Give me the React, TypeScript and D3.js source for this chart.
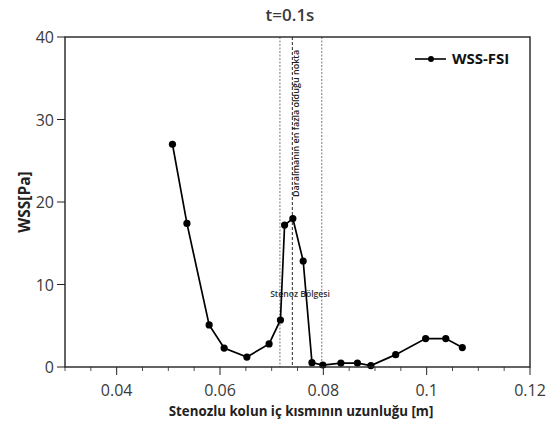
import React from "react";
import * as d3 from "d3";

// data
const positions = [0.0508, 0.0536, 0.0579, 0.0608, 0.0652, 0.0695, 0.0717, 0.0725, 0.0741, 0.0761, 0.0778, 0.0799, 0.0834, 0.0866, 0.0892, 0.094, 0.0998, 0.1037, 0.1069];
const wssFsi = [27.0, 17.4, 5.1, 2.3, 1.2, 2.8, 5.7, 17.2, 18.0, 12.85, 0.53, 0.24, 0.48, 0.48, 0.17, 1.5, 3.44, 3.44, 2.35];
const xTicks = [0.04, 0.06, 0.08, 0.1, 0.12];
const yTicks = [0, 10, 20, 30, 40];
const stenosisBounds = [0.0716, 0.0797];
const maxNarrowing = 0.074;

const W = 550;
const H = 423;
const margin = { top: 37, right: 20, bottom: 56, left: 65 };

const fontUi = "'Open Sans', 'Noto Sans', sans-serif";

export default function App() {
  const x = d3.scaleLinear().domain([0.03, 0.12]).range([margin.left, W - margin.right]);
  const y = d3.scaleLinear().domain([0, 40]).range([H - margin.bottom, margin.top]);
  const x0 = x.range()[0], x1 = x.range()[1];
  const y0 = y.range()[0], y1 = y.range()[1];

  const minorTicks = d3.range(0.03, 0.1201, 0.005).filter(
    (t) => !xTicks.some((m) => Math.abs(m - t) < 1e-6)
  );

  const line = d3
    .line<number>()
    .x((_, i) => x(positions[i]))
    .y((d) => y(d));

  const axisColor = "#222";
  const labelColor = "#3a3a3a";

  return (
    <svg width={W} height={H} style={{ position: "absolute", left: 0, top: 0, background: "#fff" }}>
      {/* title */}
      <text x={290} y={21} textAnchor="middle" fontFamily={fontUi} fontWeight={600} fontSize={17} fill={labelColor}>
        t=0.1s
      </text>

      {/* reference lines */}
      {stenosisBounds.map((v) => (
        <line key={v} x1={x(v)} x2={x(v)} y1={y1} y2={y0} stroke="#555" strokeWidth={0.8} strokeDasharray="2,1.5" />
      ))}
      <line x1={x(maxNarrowing)} x2={x(maxNarrowing)} y1={y1} y2={y0} stroke="#111" strokeWidth={0.9} strokeDasharray="3,2" />
      <text
        transform={`translate(${x(maxNarrowing) + 6.5},197) rotate(-90)`}
        fontFamily={fontUi}
        fontWeight={600}
        fontSize={9}
        fill="#222"
      >
        Daralmanın en fazla olduğu nokta
      </text>
      <text x={300} y={296.5} textAnchor="middle" fontFamily={fontUi} fontWeight={600} fontSize={8.6} fill="#333">
        Stenoz Bölgesi
      </text>

      {/* series */}
      <path d={line(wssFsi) ?? ""} fill="none" stroke="#000" strokeWidth={1.7} />
      {wssFsi.map((v, i) => (
        <circle key={i} cx={x(positions[i])} cy={y(v)} r={3.6} fill="#000" />
      ))}

      {/* frame */}
      <rect x={x0} y={y1} width={x1 - x0} height={y0 - y1} fill="none" stroke={axisColor} strokeWidth={1.4} />

      {/* x axis */}
      {xTicks.map((t) => (
        <g key={t}>
          <line x1={x(t)} x2={x(t)} y1={y0} y2={y0 + 8} stroke={axisColor} strokeWidth={1} />
          <text x={x(t)} y={y0 + 29} textAnchor="middle" fontFamily={fontUi} fontSize={16} fill={labelColor}>
            {t}
          </text>
        </g>
      ))}
      {minorTicks.map((t) => (
        <line key={t} x1={x(t)} x2={x(t)} y1={y0} y2={y0 + 4} stroke={axisColor} strokeWidth={0.8} />
      ))}
      <text x={301} y={416} textAnchor="middle" fontFamily={fontUi} fontWeight={700} fontSize={13.3} fill="#222">
        Stenozlu kolun iç kısmının uzunluğu [m]
      </text>

      {/* y axis */}
      {yTicks.map((t) => (
        <g key={t}>
          <line x1={x0 - 8} x2={x0} y1={y(t)} y2={y(t)} stroke={axisColor} strokeWidth={1} />
          <text x={x0 - 11} y={y(t) + 6} textAnchor="end" fontFamily={fontUi} fontSize={16} fill={labelColor}>
            {t}
          </text>
        </g>
      ))}
      <text
        transform={`translate(30,${(y0 + y1) / 2}) rotate(-90)`}
        textAnchor="middle"
        fontFamily={fontUi}
        fontWeight={700}
        fontSize={15.5}
        fill="#222"
      >
        WSS[Pa]
      </text>

      {/* legend */}
      <line x1={415} x2={446} y1={59} y2={59} stroke="#000" strokeWidth={1.6} />
      <circle cx={431} cy={59} r={3} fill="#000" />
      <text x={452} y={64} fontFamily={fontUi} fontWeight={700} fontSize={15} fill="#111">
        WSS-FSI
      </text>
    </svg>
  );
}
